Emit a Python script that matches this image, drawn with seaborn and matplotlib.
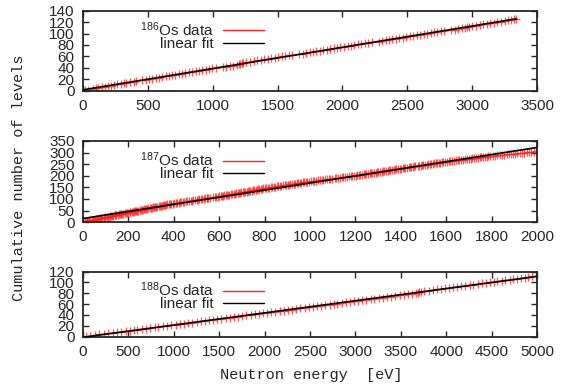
import numpy as np
import matplotlib
matplotlib.use('Agg')
import matplotlib.pyplot as plt
from matplotlib.lines import Line2D
import seaborn as sns

# ========== level energies (eV) ==========
e_186 = [18, 39, 80, 101, 118, 150, 172, 196, 214, 240, 263, 290, 318, 335,
         362, 390, 412, 458, 487, 510, 534, 562, 588, 609, 637, 660, 689, 712,
         738, 766, 790, 815, 842, 870, 895, 918, 946, 972, 998, 1025, 1078,
         1106, 1130, 1158, 1190, 1205, 1214, 1222, 1231, 1258, 1290, 1318, 1345,
         1372, 1398, 1425, 1450, 1481, 1506, 1532, 1560, 1588, 1612, 1668,
         1694, 1720, 1748, 1772, 1800, 1826, 1853, 1878, 1906, 1934, 1958, 1985,
         2012, 2040, 2066, 2092, 2118, 2146, 2172, 2198, 2226, 2279, 2305,
         2333, 2360, 2386, 2412, 2440, 2466, 2493, 2520, 2546, 2572, 2600, 2628,
         2652, 2680, 2706, 2733, 2760, 2786, 2840, 2866, 2892, 2920, 2945,
         2962, 2975, 3000, 3030, 3058, 3086, 3112, 3140, 3168, 3195, 3222, 3250,
         3276, 3300, 3322, 3340]

e_187 = [2, 9, 13, 17, 24, 28, 31, 38, 42, 47, 53, 56, 61, 67, 70, 76, 80, 84, 91, 95,
         99, 104, 110, 113, 118, 124, 128, 133, 139, 142, 147, 153, 157, 161, 168,
         172, 177, 183, 188, 194,
         199, 205, 209, 214, 220, 224, 229, 235, 238, 243, 249, 254, 258, 264, 268,
         273, 279, 283, 288, 294, 298, 303, 309, 313, 318, 323, 327, 333, 338, 342,
         348, 352, 357, 363, 367, 372, 378, 383, 388, 395,
         401, 408, 413, 421, 427, 432, 440, 447, 452, 460, 466, 474, 480, 485, 493,
         500, 507, 513, 519, 526, 533, 539, 546, 548, 551, 560, 573, 580, 587, 594,
         600, 606, 612, 617, 622, 629, 635, 640, 645, 651, 658, 663, 668, 674, 681,
         686, 690, 697, 704, 709, 714, 721, 726, 730, 737, 744, 749, 753, 760, 767,
         771, 776, 783, 790, 795,
         801, 808, 813, 821, 829, 834, 840, 848, 855, 861, 867, 874, 882, 888, 893,
         901, 909, 914, 920, 928, 935, 941, 947, 954, 962, 968, 973, 981, 989, 995,
         1003, 1012, 1019, 1026, 1035, 1044, 1051, 1058, 1067, 1076, 1083, 1090,
         1099, 1108, 1115, 1122, 1131, 1140, 1147, 1154, 1163, 1172, 1179, 1186, 1195,
         1202, 1209, 1215, 1221, 1229, 1236, 1242, 1248, 1255, 1263, 1269, 1274,
         1282, 1290, 1295, 1301, 1309, 1316, 1322, 1328, 1335, 1343, 1349, 1354,
         1362, 1370, 1375, 1381, 1389, 1396,
         1401, 1409, 1414, 1420, 1428, 1435, 1441, 1447, 1454, 1458, 1462, 1474,
         1481, 1489, 1494, 1500, 1508, 1515, 1521, 1527, 1534, 1542, 1548, 1553,
         1561, 1569, 1574, 1580, 1588, 1595,
         1603, 1612, 1619, 1626, 1635, 1644, 1651, 1658, 1667, 1676, 1683, 1690,
         1699, 1708, 1715, 1722, 1731, 1740, 1747, 1754, 1763, 1772, 1779, 1786, 1795,
         1806, 1815, 1824, 1836, 1845, 1854, 1866, 1875, 1884, 1896, 1905, 1914,
         1926, 1935, 1944, 1956, 1965, 1974, 1986, 1996]

e_188 = [35, 80, 130, 175, 230, 270, 325, 370, 420, 470,
         515, 560, 600, 650, 690, 740, 790, 830, 880, 925, 970,
         1020, 1065, 1110, 1160, 1200, 1250, 1295, 1340, 1390, 1430, 1480,
         1525, 1570, 1615, 1660, 1710, 1750, 1800, 1845, 1890, 1935, 1985,
         2030, 2075, 2120, 2165, 2210, 2260, 2300, 2350, 2390, 2440, 2485,
         2530, 2575, 2620, 2665, 2715, 2760, 2800, 2850, 2895, 2940, 2985,
         3030, 3075, 3120, 3170, 3210, 3260, 3300, 3350, 3395, 3440, 3490,
         3535, 3580, 3625, 3665, 3690, 3705, 3720, 3760, 3810, 3850, 3900, 3940, 3985,
         4030, 4075, 4120, 4165, 4210, 4260, 4300, 4345, 4390, 4440, 4480,
         4525, 4565, 4610, 4650, 4700, 4740, 4780, 4820, 4865, 4905, 4950, 4990]

isotopes = ['186', '187', '188']
x_max = [3500, 2000, 5000]
x_step = [500, 200, 500]
y_max = [140, 350, 120]
y_step = [20, 50, 20]

sns.set_style('ticks')
plt.rcParams['font.family'] = ['Liberation Sans', 'DejaVu Sans']
plt.rcParams['mathtext.default'] = 'regular'

fig = plt.figure(figsize=(5.71, 3.91), dpi=100)
rects = [[0.1454, 0.768, 0.795, 0.2046],
         [0.1454, 0.432, 0.795, 0.2074],
         [0.1454, 0.139, 0.795, 0.1665]]

for i, levels in enumerate([e_186, e_187, e_188]):
    ax = fig.add_axes(rects[i])
    energy = np.array(levels, dtype=float)
    count = np.arange(1, len(energy) + 1)
    slope, icpt = np.polyfit(energy, count, 1)
    fx = np.array([0.0, energy.max()])

    sns.scatterplot(x=energy, y=count, ax=ax, marker='+', color='#ff2020',
                    s=26, linewidth=0.9, alpha=0.75, legend=False, zorder=2)
    sns.lineplot(x=fx, y=slope * fx + icpt, ax=ax, color='black', lw=1.2, zorder=3)

    ax.set_xlim(0, x_max[i])
    ax.set_ylim(0, y_max[i])
    ax.set_xticks(np.arange(0, x_max[i] + 1, x_step[i]))
    ax.set_yticks(np.arange(0, y_max[i] + 1, y_step[i]))
    ax.tick_params(direction='in', top=True, right=True, length=4, width=1,
                   labelsize=11, pad=6)
    for sp in ax.spines.values():
        sp.set_linewidth(1.3)
        sp.set_visible(True)

    handles = [Line2D([], [], color='#ff2020', lw=1.0),
               Line2D([], [], color='black', lw=1.0)]
    labels = [f'$^{{{isotopes[i]}}}$Os data', 'linear fit']
    ax.legend(handles, labels, loc='upper right', bbox_to_anchor=(0.412, 0.96),
              frameon=False, markerfirst=False, fontsize=11, handlelength=2.7,
              handletextpad=0.6, labelspacing=-0.1, borderaxespad=0)

fig.text(0.034, 0.546, 'Cumulative number of levels', rotation=90, ha='center',
         va='center', family='Liberation Mono', fontsize=11)
fig.text(0.545, 0.04, 'Neutron energy  [eV]', ha='center', va='center',
         family='Liberation Mono', fontsize=11)

fig.savefig('out.png', dpi=100)
